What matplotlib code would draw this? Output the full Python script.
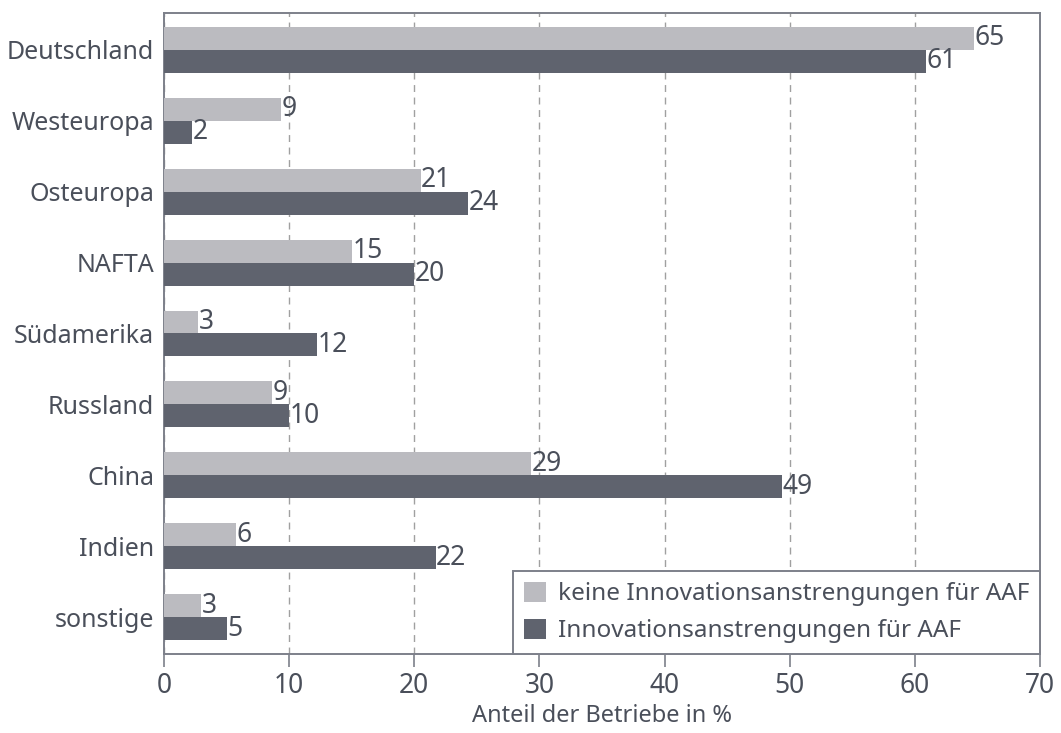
import matplotlib.pyplot as plt
import numpy as np

# data (bar lengths vs. printed rounded labels)
regionen = ['Deutschland', 'Westeuropa', 'Osteuropa', 'NAFTA', 'Südamerika',
            'Russland', 'China', 'Indien', 'sonstige']
keine = [64.7, 9.35, 20.5, 15.0, 2.7, 8.6, 29.3, 5.75, 2.95]
mit = [60.9, 2.25, 24.3, 20.0, 12.2, 10.0, 49.4, 21.7, 5.0]
keine_lbl = [65, 9, 21, 15, 3, 9, 29, 6, 3]
mit_lbl = [61, 2, 24, 20, 12, 10, 49, 22, 5]

hell = '#bbbbc0'
dunkel = '#5f636e'
txt = '#4a4f5a'
rahmen = '#7d808a'

plt.rcParams['font.family'] = ['Noto Sans', 'DejaVu Sans']

fig, ax = plt.subplots(figsize=(10.61, 7.33), dpi=100)
fig.subplots_adjust(left=0.1546, right=0.9802, top=0.9823, bottom=0.1078)

y = np.arange(len(regionen))
h = 0.324
b1 = ax.barh(y - h / 2, keine, height=h, color=hell,
             label='keine Innovationsanstrengungen für AAF', zorder=3)
b2 = ax.barh(y + h / 2, mit, height=h, color=dunkel,
             label='Innovationsanstrengungen für AAF', zorder=3)

for bar, v in zip(b1, keine_lbl):
    ax.text(bar.get_width() + 0.05, bar.get_y() + bar.get_height() / 2, str(v),
            va='center', ha='left', fontsize=19, color=txt, zorder=4)
for bar, v in zip(b2, mit_lbl):
    ax.text(bar.get_width() + 0.05, bar.get_y() + bar.get_height() / 2, str(v),
            va='center', ha='left', fontsize=19, color=txt, zorder=4)

ax.set_xlim(0, 70)
ax.set_ylim(len(regionen) - 0.48, -0.52)
ax.set_xticks(range(0, 71, 10))
ax.set_yticks(y)
ax.set_yticklabels(regionen)
ax.tick_params(axis='y', length=0, pad=7, labelsize=18, labelcolor=txt)
ax.tick_params(axis='x', length=9, width=1.2, color=rahmen, pad=4,
               labelsize=19, labelcolor=txt)
ax.xaxis.grid(True, linestyle=(0, (5, 4)), color='#a0a0a0', linewidth=1, zorder=0)

for s in ax.spines.values():
    s.set_color(rahmen)
    s.set_linewidth(1.4)

ax.set_xlabel('Anteil der Betriebe in %', fontsize=17, color=txt, labelpad=3)

leg = ax.legend(loc='lower right', borderaxespad=0, fontsize=17.5, fancybox=False,
                edgecolor=rahmen, framealpha=1, handlelength=0.9, handleheight=0.9,
                handletextpad=0.5, labelspacing=0.5, borderpad=0.45, labelcolor=txt)
leg.get_frame().set_linewidth(1.4)

fig.savefig('out.png', dpi=100)
